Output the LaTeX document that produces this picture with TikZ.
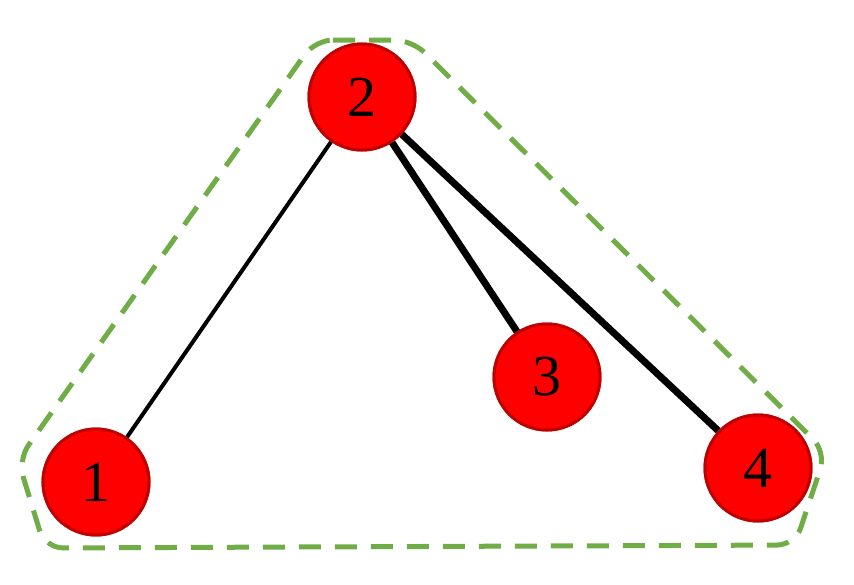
\documentclass[tikz,border=0pt]{standalone}
\usepackage{fontspec}
\setmainfont{Liberation Serif}
\begin{document}
\begin{tikzpicture}[x=1pt,y=-1pt,
  vtx/.style={circle,fill=red,draw={rgb,255:red,192;green,0;blue,0},line width=3pt,minimum size=106pt,inner sep=0pt,font=\fontsize{58}{58}\selectfont},
  grp/.style={draw={rgb,255:red,112;green,173;blue,71},line width=5pt,dash pattern=on 22pt off 14pt,rounded corners=18pt}]
\useasboundingbox (0,0) rectangle (854,584);
\draw[grp] (315,40) -- (412,40) -- (826,452) -- (795,545) -- (45,548) -- (18,460) -- cycle;
\node[vtx] (n2) at (362,97) {2};
\node[vtx] (n1) at (96,482) {1};
\node[vtx] (n3) at (547,377) {3};
\node[vtx] (n4) at (758,468) {4};
\begin{scope}[on background layer/.try]
\end{scope}
\draw[line width=4pt] (n1) -- (n2);
\draw[line width=7pt] (n2) -- (n3);
\draw[line width=7pt] (n2) -- (n4);
\node[vtx] at (n2) {2};
\node[vtx] at (n1) {1};
\node[vtx] at (n3) {3};
\node[vtx] at (n4) {4};
\end{tikzpicture}
\end{document}
